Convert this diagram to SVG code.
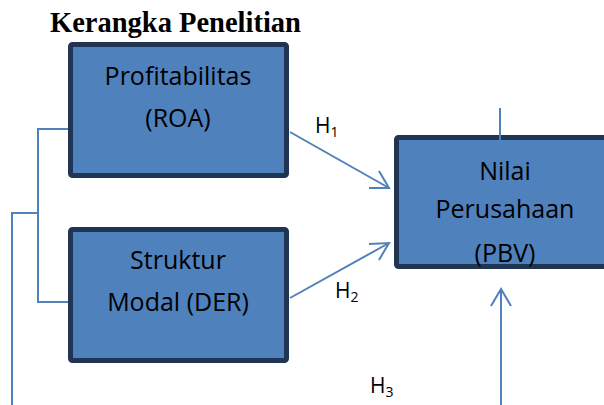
<svg xmlns="http://www.w3.org/2000/svg" width="604" height="405" viewBox="0 0 604 405">
<style>
.box{fill:#4F81BD;stroke:#1F3553;stroke-width:5;}
.lbl{font-family:"Open Sans","Liberation Sans",sans-serif;font-size:25px;fill:#000;text-anchor:middle;}
.h{font-family:"Open Sans","Liberation Sans",sans-serif;font-size:21px;fill:#000;}
.sub{font-size:14px;}
.ln{fill:none;stroke:#4F81BD;stroke-width:2;}
.title{font-family:"Liberation Serif","Times New Roman",serif;font-weight:bold;font-size:28.5px;fill:#000;}
</style>
<rect width="604" height="405" fill="#fff"/>
<text class="title" x="50" y="32">Kerangka Penelitian</text>
<g id="connectors">
<polyline class="ln" points="68,129 38,129 38,302 68,302"/>
<polyline class="ln" points="38,213 12,213 12,405"/>
<line class="ln" x1="290" y1="132" x2="389" y2="188"/>
<polyline class="ln" points="369,188 389,188 379,171"/>
<line class="ln" x1="290" y1="298" x2="389" y2="243"/>
<polyline class="ln" points="369,244 389,243 379,260"/>
<line class="ln" x1="501" y1="405" x2="501" y2="290"/>
<polyline class="ln" points="491,306 501,289 511,306"/>
</g>
<g id="node-roa">
<rect class="box" x="70.5" y="44.5" width="216" height="131" rx="2"/>
<text class="lbl" x="178" y="85">Profitabilitas</text>
<text class="lbl" x="178" y="127">(ROA)</text>
</g>
<g id="node-der">
<rect class="box" x="70.5" y="229.5" width="216" height="131" rx="2"/>
<text class="lbl" x="178" y="269">Struktur</text>
<text class="lbl" x="178" y="311">Modal (DER)</text>
</g>
<g id="node-pbv">
<rect class="box" x="396.5" y="137.5" width="220" height="129" rx="2"/>
<line class="ln" x1="500" y1="108" x2="500" y2="152"/>
<text class="lbl" x="505" y="180">Nilai</text>
<text class="lbl" x="505" y="218">Perusahaan</text>
<text class="lbl" x="505" y="262">(PBV)</text>
</g>
<g id="labels">
<text class="h" x="315" y="133">H<tspan class="sub" dy="4">1</tspan></text>
<text class="h" x="335" y="298">H<tspan class="sub" dy="4">2</tspan></text>
<text class="h" x="370" y="393">H<tspan class="sub" dy="4">3</tspan></text>
</g>
</svg>
